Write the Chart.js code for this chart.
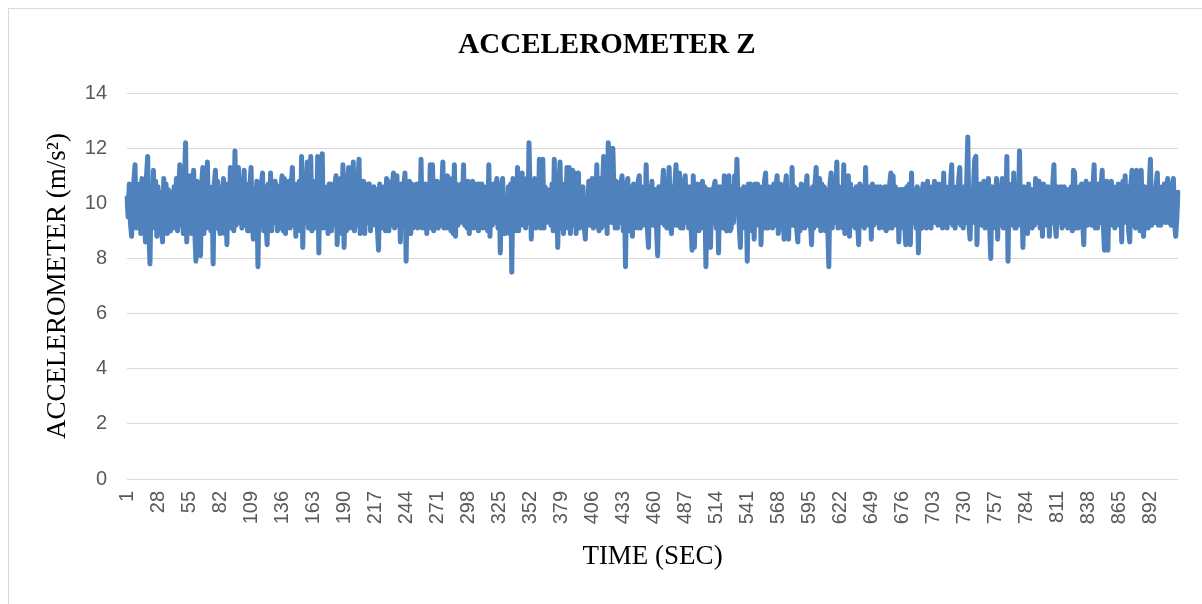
<!DOCTYPE html>
<html>
<head>
<meta charset="utf-8">
<script src="https://cdn.jsdelivr.net/npm/chart.js@4/dist/chart.umd.min.js"></script>
<style>
  html, body { margin: 0; padding: 0; background: #fff; }
  #frame { position: absolute; left: 8px; top: 8px; width: 1200px; height: 600px; border: 1px solid #d9d9d9; }
  #wrap { position: absolute; left: 0; top: 0; width: 1202px; height: 604px; }
</style>
</head>
<body>
<div id="frame"></div>
<div id="wrap"><canvas id="accelChart"></canvas></div>
<script>
// 1) Data (one reading per second)
const accelZ = [
  10.2, 9.5, 10.7, 9.3, 8.8, 10.1, 10.8, 11.4, 9.1, 10.6,
  9.2, 10.7, 8.9, 10.9, 9.1, 10.4, 8.6, 11.0, 11.7, 9.0,
  7.8, 10.5, 9.3, 11.2, 9.1, 10.8, 8.8, 10.6, 9.2, 10.4,
  9.0, 8.6, 10.9, 9.4, 10.7, 8.9, 10.5, 9.3, 9.0, 10.4,
  9.2, 10.6, 9.1, 10.9, 9.0, 10.5, 11.4, 9.2, 10.9, 8.9,
  10.7, 12.2, 8.6, 10.6, 9.1, 11.0, 8.9, 10.4, 11.2, 9.0,
  7.9, 10.8, 9.3, 10.5, 8.1, 10.7, 11.3, 8.9, 10.9, 9.1,
  11.5, 9.2, 10.6, 9.0, 10.4, 7.8, 10.7, 11.2, 9.1, 10.8,
  9.3, 8.9, 10.6, 9.2, 10.9, 8.9, 10.3, 8.5, 10.7, 9.3,
  11.3, 9.1, 10.5, 9.0, 11.9, 9.2, 10.6, 11.3, 9.3, 10.7,
  9.1, 10.5, 11.2, 9.2, 10.7, 9.0, 9.0, 10.6, 11.3, 9.3,
  8.7, 10.5, 9.1, 10.8, 7.7, 10.4, 9.2, 10.7, 11.1, 9.0,
  10.6, 9.3, 8.5, 10.7, 9.2, 11.1, 9.0, 10.5, 9.3, 10.8,
  10.5, 9.0, 10.6, 9.1, 10.5, 11.0, 9.0, 10.9, 8.9, 10.7,
  9.2, 10.8, 9.1, 10.6, 11.3, 9.2, 10.5, 8.8, 10.7, 9.3,
  10.8, 9.0, 11.7, 8.4, 10.6, 9.3, 10.7, 11.5, 9.1, 10.5,
  11.7, 9.0, 10.8, 9.1, 10.5, 9.3, 11.7, 8.2, 10.7, 9.2,
  11.8, 9.1, 10.6, 9.3, 10.4, 8.9, 10.7, 10.7, 9.0, 10.5,
  9.2, 10.7, 11.0, 8.5, 10.6, 9.1, 10.9, 8.9, 11.4, 8.4,
  10.5, 9.0, 10.8, 11.3, 9.1, 10.5, 9.3, 11.5, 9.0, 10.7,
  9.2, 10.6, 11.6, 8.9, 10.5, 9.1, 10.8, 8.9, 10.6, 9.3,
  10.7, 10.7, 9.0, 10.4, 9.3, 10.6, 9.2, 10.5, 9.1, 8.3,
  10.7, 9.3, 10.5, 9.1, 10.6, 9.0, 10.9, 10.8, 9.0, 10.4,
  9.2, 10.7, 11.1, 9.1, 10.6, 11.0, 9.2, 10.5, 8.6, 10.7,
  9.3, 10.6, 11.1, 7.9, 10.5, 9.0, 10.8, 8.9, 10.7, 9.1,
  10.6, 9.2, 10.7, 9.1, 10.7, 9.2, 11.6, 9.1, 10.6, 9.2,
  10.7, 8.9, 10.5, 9.3, 11.4, 9.1, 11.4, 9.0, 10.8, 9.1,
  10.8, 9.1, 10.6, 9.2, 10.5, 11.5, 9.1, 10.7, 9.1, 11.0,
  9.2, 10.6, 9.0, 10.9, 8.9, 11.4, 8.8, 10.7, 9.2, 10.5,
  9.3, 10.7, 9.8, 11.4, 9.2, 10.5, 9.1, 10.8, 8.9, 10.6,
  9.1, 10.8, 9.1, 10.5, 9.3, 10.7, 9.0, 10.7, 9.2, 10.7,
  9.1, 10.6, 9.3, 10.5, 9.0, 11.4, 8.8, 10.6, 9.2, 10.7,
  9.3, 10.5, 10.9, 9.1, 10.4, 8.2, 10.6, 10.9, 9.3, 8.9,
  10.0, 9.3, 10.6, 8.9, 10.7, 7.5, 10.9, 9.2, 10.5, 9.0,
  11.3, 9.0, 10.7, 9.3, 11.1, 9.2, 10.6, 9.1, 10.9, 9.3,
  12.2, 10.1, 8.7, 10.7, 9.2, 10.9, 9.1, 10.6, 9.3, 11.6,
  9.1, 10.5, 11.6, 9.1, 10.6, 9.3, 10.5, 9.4, 10.4, 9.2,
  10.7, 9.0, 11.6, 9.0, 10.5, 8.4, 10.6, 11.5, 9.1, 10.5,
  8.9, 10.7, 9.3, 11.3, 9.1, 11.3, 8.9, 10.6, 11.2, 9.2,
  11.1, 8.9, 10.7, 11.1, 9.1, 10.5, 9.3, 10.6, 9.2, 8.7,
  10.0, 9.3, 10.8, 9.2, 10.6, 10.9, 9.1, 10.5, 9.3, 11.4,
  9.2, 9.0, 10.9, 9.1, 10.6, 11.7, 9.2, 10.7, 8.9, 12.2,
  10.5, 11.9, 9.3, 12.0, 10.3, 9.1, 10.8, 9.1, 10.5, 9.3,
  10.7, 11.0, 9.0, 10.5, 7.7, 10.7, 10.9, 9.3, 9.0, 10.6,
  8.8, 10.7, 9.2, 10.5, 9.1, 10.8, 11.0, 9.1, 10.6, 9.2,
  10.5, 9.3, 11.4, 9.1, 8.4, 10.6, 9.3, 10.8, 9.2, 10.5,
  10.5, 9.1, 8.1, 10.6, 10.5, 9.3, 10.5, 11.2, 9.2, 10.6,
  9.1, 10.5, 11.3, 9.3, 8.9, 10.6, 9.2, 10.7, 11.4, 9.2,
  10.5, 11.1, 9.1, 10.6, 9.1, 10.8, 11.0, 9.3, 10.5, 9.1,
  10.6, 9.2, 8.3, 11.0, 8.4, 10.5, 9.3, 10.7, 9.0, 10.5,
  9.2, 10.8, 9.1, 10.6, 7.7, 10.4, 10.5, 9.0, 8.4, 10.5,
  9.3, 10.6, 10.8, 9.1, 10.5, 8.2, 10.6, 9.3, 10.5, 9.1,
  11.0, 9.2, 9.0, 10.7, 11.0, 9.0, 9.1, 10.6, 9.3, 11.0,
  9.8, 11.6, 9.9, 9.2, 8.4, 10.5, 9.3, 10.6, 9.1, 10.4,
  7.9, 10.7, 9.2, 10.7, 9.0, 10.5, 8.7, 10.7, 9.2, 10.7,
  9.3, 10.6, 8.5, 10.5, 9.1, 10.8, 11.1, 9.1, 9.1, 10.6,
  9.3, 10.5, 9.1, 10.7, 9.2, 10.6, 11.0, 8.9, 9.2, 10.7,
  9.2, 10.5, 8.7, 10.6, 11.0, 9.1, 8.7, 10.5, 9.3, 11.3,
  9.2, 10.6, 10.5, 9.1, 8.6, 10.5, 9.0, 10.7, 9.2, 10.5,
  9.1, 10.6, 11.0, 9.2, 10.5, 9.3, 8.5, 10.6, 9.1, 10.7,
  11.3, 9.2, 10.5, 10.9, 9.0, 10.7, 9.3, 10.6, 9.0, 10.5,
  9.2, 7.7, 10.7, 11.1, 9.1, 10.6, 9.3, 10.5, 11.5, 9.1,
  10.6, 9.2, 10.5, 9.1, 11.4, 8.9, 10.6, 9.3, 11.0, 8.8,
  10.7, 9.2, 9.9, 10.5, 9.1, 10.6, 9.3, 8.5, 10.7, 10.2,
  9.2, 10.6, 9.1, 11.3, 9.3, 10.5, 9.2, 10.6, 8.7, 10.7,
  9.2, 10.5, 9.3, 10.6, 10.2, 9.1, 10.6, 9.2, 10.5, 9.1,
  10.6, 9.0, 10.6, 9.1, 10.7, 11.1, 9.1, 11.0, 9.2, 10.6,
  9.3, 10.5, 8.6, 10.5, 9.1, 10.5, 10.5, 9.3, 8.5, 10.6,
  9.2, 10.7, 8.5, 11.1, 9.3, 10.5, 10.2, 9.1, 10.6, 8.2,
  10.5, 9.2, 9.1, 10.7, 9.3, 10.6, 9.1, 10.8, 9.2, 10.5,
  9.1, 10.6, 9.3, 10.8, 9.3, 10.5, 9.2, 10.7, 9.3, 10.6,
  9.1, 11.1, 9.2, 10.6, 9.1, 10.5, 9.3, 10.7, 11.4, 9.2,
  10.6, 9.1, 10.5, 9.3, 10.8, 11.3, 9.2, 10.5, 9.1, 10.6,
  9.3, 10.7, 12.4, 9.2, 8.7, 10.5, 9.3, 10.6, 11.6, 11.7,
  8.5, 10.7, 9.3, 10.7, 9.2, 10.5, 10.8, 9.1, 10.6, 9.3,
  10.9, 9.2, 8.0, 10.6, 9.3, 10.5, 9.1, 10.9, 8.7, 10.6,
  9.2, 10.5, 10.9, 9.1, 10.6, 9.3, 11.7, 7.9, 10.7, 9.2,
  10.5, 9.3, 11.1, 9.1, 9.1, 10.6, 9.3, 11.9, 9.2, 10.5,
  8.4, 10.6, 9.2, 10.5, 8.9, 10.7, 9.3, 10.5, 9.1, 10.5,
  9.2, 10.9, 9.3, 10.6, 10.8, 9.1, 10.5, 8.8, 10.7, 9.3,
  10.6, 9.2, 10.6, 8.8, 10.5, 9.3, 10.7, 11.4, 9.2, 8.8,
  10.6, 9.3, 10.5, 10.6, 9.1, 9.2, 10.6, 9.3, 10.5, 9.1,
  10.5, 9.3, 10.6, 9.0, 11.2, 11.1, 9.1, 10.6, 9.1, 9.4,
  10.5, 10.7, 9.3, 8.5, 10.6, 10.8, 9.2, 10.5, 9.3, 10.7,
  9.2, 10.6, 11.4, 9.1, 10.5, 9.1, 10.7, 9.3, 10.6, 11.2,
  9.2, 8.3, 10.6, 10.8, 8.3, 10.5, 9.3, 10.8, 9.2, 10.6,
  9.1, 10.5, 9.3, 10.7, 9.2, 10.6, 8.6, 10.8, 9.3, 11.0,
  9.3, 10.6, 9.0, 8.6, 10.7, 11.2, 9.2, 10.5, 9.1, 11.2,
  9.2, 10.6, 9.0, 11.2, 9.3, 8.8, 10.6, 9.1, 10.5, 9.1,
  10.6, 11.6, 9.2, 9.3, 10.5, 9.3, 10.7, 11.1, 9.2, 10.6,
  9.2, 10.5, 9.5, 10.7, 9.3, 10.5, 10.9, 9.3, 10.7, 9.2,
  10.6, 10.9, 9.3, 8.8, 9.5, 10.4
];

// time axis: 1, 2, 3 ... seconds, one per reading
const timeSec = accelZ.map((v, i) => i + 1);
const labelEvery = 27;

// y axis range
const yMin = 0;
const yMax = 14;
const yStep = 2;

// 2) Styles
const lineBlue = "#4F81BD";
const gridGray = "#d9d9d9";
const tickGray = "#595959";

// 3) Build the chart
const ctx = document.getElementById("accelChart");
new Chart(ctx, {
  type: "line",
  data: {
    labels: timeSec,
    datasets: [{
      label: "Accelerometer Z",
      data: accelZ,
      borderColor: lineBlue,
      backgroundColor: lineBlue,
      borderWidth: 5,
      borderJoinStyle: "round",
      borderCapStyle: "round",
      pointRadius: 0,
      tension: 0,
      fill: false
    }]
  },
  options: {
    responsive: true,
    maintainAspectRatio: false,
    animation: false,
    layout: { padding: { left: 36, right: 24, top: 0, bottom: 0 } },
    plugins: {
      legend: { display: false },
      tooltip: { enabled: false },
      title: {
        display: true,
        text: "ACCELEROMETER Z",
        color: "#000",
        font: { family: "'Liberation Serif', 'Times New Roman', serif", size: 29, weight: "bold", lineHeight: 1.2 },
        padding: { top: 28.6, bottom: 29.6 }
      }
    },
    scales: {
      x: {
        type: "category",
        offset: false,
        grid: { display: false, drawTicks: false },
        border: { display: false },
        ticks: {
          autoSkip: false,
          minRotation: 90,
          maxRotation: 90,
          padding: 12,
          color: tickGray,
          font: { family: "'Liberation Sans', Arial, sans-serif", size: 20 },
          callback: function (val, index) {
            return index % labelEvery === 0 ? this.getLabelForValue(val) : null;
          }
        },
        title: {
          display: true,
          text: "TIME (SEC)",
          color: "#000",
          font: { family: "'Liberation Serif', 'Times New Roman', serif", size: 27, lineHeight: 1.2 },
          padding: { top: 0, bottom: 30.8 }
        },
        afterFit: function (scale) { scale.height = 125; }
      },
      y: {
        min: yMin,
        max: yMax,
        grid: { color: gridGray, lineWidth: 1, drawTicks: false },
        border: { display: false },
        ticks: {
          stepSize: yStep,
          padding: 20,
          color: tickGray,
          font: { family: "'Liberation Sans', Arial, sans-serif", size: 20 }
        },
        title: {
          display: true,
          text: "ACCELEROMETER (m/s²)",
          color: "#000",
          font: { family: "'Liberation Serif', 'Times New Roman', serif", size: 27, lineHeight: 1.2 },
          padding: { top: 5.8, bottom: 0 }
        },
        afterFit: function (scale) { scale.width = 91; }
      }
    }
  }
});
</script>
</body>
</html>
